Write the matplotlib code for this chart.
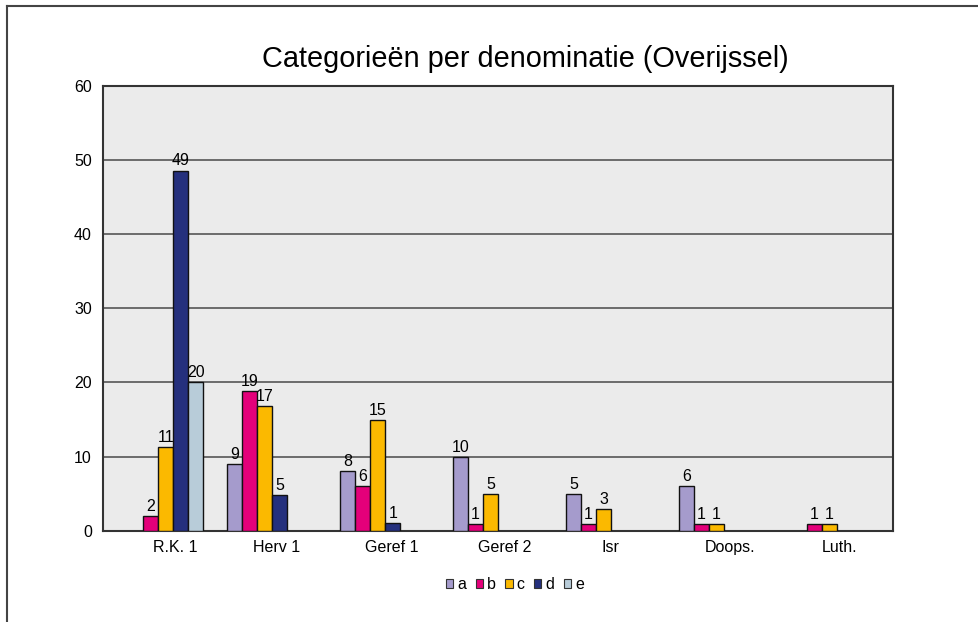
import numpy as np
import matplotlib
matplotlib.use('Agg')
import matplotlib.pyplot as plt
from matplotlib.patches import Rectangle
from matplotlib.lines import Line2D

plt.rcParams['font.family'] = ['Liberation Sans', 'DejaVu Sans']

# categorieën en reeksen
categories = ['R.K. 1', 'Herv 1', 'Geref 1', 'Geref 2', 'Isr', 'Doops.', 'Luth.']
series = ['a', 'b', 'c', 'd', 'e']
a = [0, 9.0, 8.0, 9.9, 4.9, 6.0, 0]
b = [2.0, 18.9, 6.0, 0.9, 0.9, 0.9, 0.9]
c = [11.3, 16.8, 14.9, 4.9, 2.9, 0.9, 0.9]
d = [48.6, 4.8, 1.0, 0, 0, 0, 0]
e = [20.0, 0, 0, 0, 0, 0, 0]
colors = ['#A59BCC', '#E4007A', '#FBB900', '#25307D', '#B8CCD9']

# verschuiving per groep (zoals in het origineel)
group_shift = [0.055, -0.065, -0.065, -0.065, -0.065, -0.065, -0.065]
label_shift = [0.14, 0.04, 0.06, 0.06, 0.0, 0.06, 0.03]


def main():
    fig = plt.figure(figsize=(9.79, 6.22), dpi=100)
    ax = fig.add_axes([0.1052, 0.1468, 0.8070, 0.7149])
    ax.set_facecolor('#EBEBEB')

    x = np.arange(len(categories)) + np.array(group_shift)
    w = 0.133
    data = [a, b, c, d, e]
    for j, (name, vals) in enumerate(zip(series, data)):
        pos = x + (j - 2) * w
        vals = np.array(vals)
        mask = vals > 0
        ax.bar(pos[mask], vals[mask], width=w, color=colors[j],
               edgecolor='#111111', linewidth=1.0, zorder=3, label=name)
        for px, v in zip(pos[mask], vals[mask]):
            ax.annotate(str(int(round(v))), (px, v), xytext=(0, 1.5),
                        textcoords='offset points', ha='center', va='bottom',
                        fontsize=11.5, zorder=4)

    ax.set_xlim(-0.5, len(categories) - 0.5)
    ax.set_ylim(0, 60)
    ax.set_yticks(range(0, 61, 10))
    ax.yaxis.grid(True, color='#555555', linewidth=1.2, zorder=1)
    ax.set_axisbelow(True)
    ax.set_xticks(np.arange(len(categories)) + np.array(label_shift))
    ax.set_xticklabels(categories)
    ax.tick_params(axis='both', length=0, labelsize=11.5)
    ax.tick_params(axis='y', pad=8)
    ax.tick_params(axis='x', pad=7)
    for s in ax.spines.values():
        s.set_color('#333333')
        s.set_linewidth(1.5)

    fig.text(0.537, 0.905, 'Categorieën per denominatie (Overijssel)',
             ha='center', va='center', fontsize=20.8)

    handles = [Rectangle((0, 0), 1, 1, facecolor=col, edgecolor='#333333', linewidth=0.8)
               for col in colors]
    fig.legend(handles, series, loc='center', bbox_to_anchor=(0.526, 0.06),
               ncol=5, frameon=False, fontsize=11.5, handlelength=0.45,
               handleheight=0.45, handletextpad=0.25, columnspacing=0.6)

    # rand om de figuur (alleen links en boven zichtbaar)
    fig.add_artist(Line2D([7 / 979, 7 / 979], [0, 1 - 6 / 622],
                          transform=fig.transFigure, color='#444444', linewidth=1.5))
    fig.add_artist(Line2D([7 / 979, 1], [1 - 6 / 622, 1 - 6 / 622],
                          transform=fig.transFigure, color='#444444', linewidth=1.5))

    fig.savefig('out.png', dpi=100)


if __name__ == '__main__':
    main()
